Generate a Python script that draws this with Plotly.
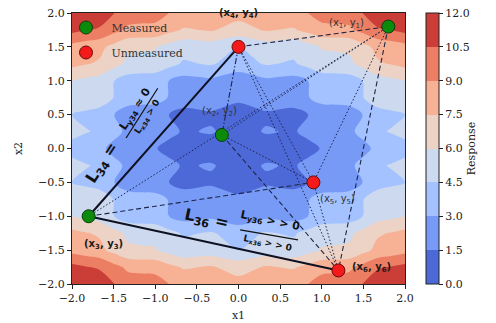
import plotly.graph_objects as go

# ---------------------------------------------------------------- response surface
grid_x = [-2.0, -1.833, -1.667, -1.5, -1.333, -1.167, -1.0, -0.833, -0.667, -0.5,
          -0.333, -0.167, 0.0, 0.167, 0.333, 0.5, 0.667, 0.833, 1.0, 1.167,
          1.333, 1.5, 1.667, 1.833, 2.0]
grid_y = [-2.0, -1.75, -1.5, -1.25, -1.0, -0.75, -0.5, -0.25, 0.0,
          0.25, 0.5, 0.75, 1.0, 1.25, 1.5, 1.75, 2.0]

response = [
    [12.00, 11.66, 11.38, 10.55, 9.78, 9.66, 9.60, 8.99, 8.44, 8.55, 8.71, 8.33, 8.00, 8.33, 8.71, 8.55, 8.44, 8.99, 9.60, 9.66, 9.78, 10.55, 11.38, 11.66, 12.00],
    [10.93, 10.59, 10.31, 9.48, 8.71, 8.59, 8.53, 7.92, 7.37, 7.48, 7.64, 7.26, 6.93, 7.26, 7.64, 7.48, 7.37, 7.92, 8.53, 8.59, 8.71, 9.48, 10.31, 10.59, 10.93],
    [8.50, 8.16, 7.88, 7.05, 6.28, 6.16, 6.10, 5.49, 4.94, 5.05, 5.21, 4.83, 4.50, 4.83, 5.21, 5.05, 4.94, 5.49, 6.10, 6.16, 6.28, 7.05, 7.88, 8.16, 8.50],
    [7.93, 7.59, 7.31, 6.48, 5.71, 5.59, 5.53, 4.92, 4.37, 4.48, 4.64, 4.26, 3.93, 4.26, 4.64, 4.48, 4.37, 4.92, 5.53, 5.59, 5.71, 6.48, 7.31, 7.59, 7.93],
    [6.00, 5.66, 5.38, 4.55, 3.78, 3.66, 3.60, 2.99, 2.44, 2.55, 2.71, 2.33, 2.00, 2.33, 2.71, 2.55, 2.44, 2.99, 3.60, 3.66, 3.78, 4.55, 5.38, 5.66, 6.00],
    [5.93, 5.59, 5.31, 4.48, 3.71, 3.59, 3.53, 2.92, 2.37, 2.48, 2.64, 2.26, 1.93, 2.26, 2.64, 2.48, 2.37, 2.92, 3.53, 3.59, 3.71, 4.48, 5.31, 5.59, 5.93],
    [4.50, 4.16, 3.88, 3.05, 2.28, 2.16, 2.10, 1.49, 0.94, 1.05, 1.21, 0.83, 0.50, 0.83, 1.21, 1.05, 0.94, 1.49, 2.10, 2.16, 2.28, 3.05, 3.88, 4.16, 4.50],
    [4.93, 4.59, 4.31, 3.48, 2.71, 2.59, 2.53, 1.92, 1.37, 1.48, 1.64, 1.26, 0.93, 1.26, 1.64, 1.48, 1.37, 1.92, 2.53, 2.59, 2.71, 3.48, 4.31, 4.59, 4.93],
    [4.00, 3.66, 3.38, 2.55, 1.78, 1.66, 1.60, 0.99, 0.44, 0.55, 0.71, 0.33, 0.00, 0.33, 0.71, 0.55, 0.44, 0.99, 1.60, 1.66, 1.78, 2.55, 3.38, 3.66, 4.00],
    [4.93, 4.59, 4.31, 3.48, 2.71, 2.59, 2.53, 1.92, 1.37, 1.48, 1.64, 1.26, 0.93, 1.26, 1.64, 1.48, 1.37, 1.92, 2.53, 2.59, 2.71, 3.48, 4.31, 4.59, 4.93],
    [4.50, 4.16, 3.88, 3.05, 2.28, 2.16, 2.10, 1.49, 0.94, 1.05, 1.21, 0.83, 0.50, 0.83, 1.21, 1.05, 0.94, 1.49, 2.10, 2.16, 2.28, 3.05, 3.88, 4.16, 4.50],
    [5.93, 5.59, 5.31, 4.48, 3.71, 3.59, 3.53, 2.92, 2.37, 2.48, 2.64, 2.26, 1.93, 2.26, 2.64, 2.48, 2.37, 2.92, 3.53, 3.59, 3.71, 4.48, 5.31, 5.59, 5.93],
    [6.00, 5.66, 5.38, 4.55, 3.78, 3.66, 3.60, 2.99, 2.44, 2.55, 2.71, 2.33, 2.00, 2.33, 2.71, 2.55, 2.44, 2.99, 3.60, 3.66, 3.78, 4.55, 5.38, 5.66, 6.00],
    [7.93, 7.59, 7.31, 6.48, 5.71, 5.59, 5.53, 4.92, 4.37, 4.48, 4.64, 4.26, 3.93, 4.26, 4.64, 4.48, 4.37, 4.92, 5.53, 5.59, 5.71, 6.48, 7.31, 7.59, 7.93],
    [8.50, 8.16, 7.88, 7.05, 6.28, 6.16, 6.10, 5.49, 4.94, 5.05, 5.21, 4.83, 4.50, 4.83, 5.21, 5.05, 4.94, 5.49, 6.10, 6.16, 6.28, 7.05, 7.88, 8.16, 8.50],
    [10.93, 10.59, 10.31, 9.48, 8.71, 8.59, 8.53, 7.92, 7.37, 7.48, 7.64, 7.26, 6.93, 7.26, 7.64, 7.48, 7.37, 7.92, 8.53, 8.59, 8.71, 9.48, 10.31, 10.59, 10.93],
    [12.00, 11.66, 11.38, 10.55, 9.78, 9.66, 9.60, 8.99, 8.44, 8.55, 8.71, 8.33, 8.00, 8.33, 8.71, 8.55, 8.44, 8.99, 9.60, 9.66, 9.78, 10.55, 11.38, 11.66, 12.00],
]

level_vals = [0.0, 1.5, 3.0, 4.5, 6.0, 7.5, 9.0, 10.5, 12.0]
level_text = ["0.0", "1.5", "3.0", "4.5", "6.0", "7.5", "9.0", "10.5", "12.0"]
band_colors = ["#4d68d7", "#779af7", "#a3c2ff", "#ccd9ee",
               "#ecd3c5", "#f7b194", "#ec7f63", "#cb3e38"]

axis_ticks = [-2.0, -1.5, -1.0, -0.5, 0.0, 0.5, 1.0, 1.5, 2.0]
axis_tick_text = ["\u22122.0", "\u22121.5", "\u22121.0", "\u22120.5", "0.0",
                  "0.5", "1.0", "1.5", "2.0"]

# ---------------------------------------------------------------- sample points
point_x = [1.8, -0.2, -1.8, 0.0, 0.9, 1.2]
point_y = [1.8, 0.2, -1.0, 1.5, -0.5, -1.8]
point_measured = [True, True, True, False, False, False]
point_labels = ["(x<sub>1</sub>, y<sub>1</sub>)", "(x<sub>2</sub>, y<sub>2</sub>)",
                "(x<sub>3</sub>, y<sub>3</sub>)", "(x<sub>4</sub>, y<sub>4</sub>)",
                "(x<sub>5</sub>, y<sub>5</sub>)", "(x<sub>6</sub>, y<sub>6</sub>)"]

# connections between points (1-based) and their line style
links = [(3, 4, "solid"), (3, 6, "solid"),
         (4, 1, "dash"), (3, 5, "dash"), (1, 6, "dash"), (2, 6, "dash"),
         (4, 2, "dashdot"),
         (1, 3, "dot"), (1, 2, "dot"), (1, 5, "dot"), (4, 5, "dot"),
         (4, 6, "dot"), (2, 5, "dot"), (5, 6, "dot")]

link_styles = {
    "solid": dict(color="#0e1122", width=2.0, dash="solid"),
    "dash": dict(color="#1d2648", width=1.1, dash="5px,3px"),
    "dot": dict(color="#1d2648", width=1.0, dash="1.5px,2px"),
    "dashdot": dict(color="#1d2648", width=1.1, dash="6px,2px,1.5px,2px"),
}

SERIF = "DejaVu Serif"
SANS = "DejaVu Sans"

# stepped colour scale: one flat colour per contour band
n_band = len(band_colors)
scale = []
for i, c in enumerate(band_colors):
    scale.append([i / n_band, c])
    scale.append([(i + 1) / n_band, c])

fig = go.Figure()

fig.add_trace(go.Contour(
    x=grid_x, y=grid_y, z=response,
    zmin=level_vals[0], zmax=level_vals[-1],
    autocontour=False,
    contours=dict(start=level_vals[0], end=level_vals[-1], size=1.5,
                  coloring="fill", showlines=False),
    line=dict(width=0, smoothing=1.0),
    colorscale=scale,
    showlegend=False,
    colorbar=dict(
        thickness=13, len=1.0, lenmode="fraction",
        x=1.063, xanchor="left", y=0.5, yanchor="middle",
        xpad=0, ypad=0,
        outlinewidth=1, outlinecolor="#222",
        ticks="outside", ticklen=4, tickwidth=1, tickcolor="#222",
        tickvals=level_vals, ticktext=level_text,
        tickfont=dict(family=SERIF, size=11, color="#222"),
        title=dict(text="Response", side="right",
                   font=dict(family=SERIF, size=11, color="#222")),
    ),
))

for a, b, style in links:
    st = link_styles[style]
    fig.add_trace(go.Scatter(
        x=[point_x[a - 1], point_x[b - 1]], y=[point_y[a - 1], point_y[b - 1]],
        mode="lines", line=st, showlegend=False, hoverinfo="skip"))

for flag, name, fill, edge, grp in [(True, "\u2002Measured", "#0c8a0c", "#0b3d0b", "m"),
                                    (False, "\u2002Unmeasured", "#f41a1a", "#6a0a0a", "u")]:
    xs = [px for px, m in zip(point_x, point_measured) if m == flag]
    ys = [py for py, m in zip(point_y, point_measured) if m == flag]
    fig.add_trace(go.Scatter(
        x=xs, y=ys, mode="markers", name=name, legendgroup=grp,
        marker=dict(size=13, color=fill, line=dict(color=edge, width=1))))

# point labels, placed in pixels relative to each point
label_place = [(-42, 3, False), (-2, 23, False), (15, -28, True),
               (0, 33, True), (24, -17, False), (33, 3, True)]
annotations = []
for i, (dx, dy, bold) in enumerate(label_place):
    txt = point_labels[i]
    annotations.append(dict(
        x=point_x[i], y=point_y[i], xref="x", yref="y",
        text="<b>" + txt + "</b>" if bold else txt,
        showarrow=False, xshift=dx, yshift=dy,
        font=dict(family=SANS, size=10, color="#1a1a1a" if bold else "#333333")))

# ratio annotations along the two solid links
ratio_text = [
    ((-1.63, -0.21), "<b>L<sub>34</sub> =</b>", 16, -57),
    ((-1.24, 0.59), "<b>L<sub>y34</sub> \u2248 0</b>", 11, -57),
    ((-1.09, 0.47), "<b>L<sub>x34</sub> > 0</b>", 9, -57),
    ((-0.38, -1.055), "<b>L<sub>36</sub> =</b>", 16, 12),
    ((0.38, -1.07), "<b>L<sub>y36</sub> > > 0</b>", 11, 12),
    ((0.35, -1.40), "<b>L<sub>x36</sub> > > 0</b>", 9, 12),
]
for (ax, ay), txt, size, ang in ratio_text:
    annotations.append(dict(
        x=ax, y=ay, xref="x", yref="y", text=txt, showarrow=False,
        textangle=ang, font=dict(family=SANS, size=size, color="#111")))

fraction_bars = [((-1.35, 0.155), (-0.97, 0.89)), ((0.02, -1.20), (0.715, -1.35))]
shapes = [dict(type="line", xref="x", yref="y", x0=p[0], y0=p[1], x1=q[0], y1=q[1],
               line=dict(color="#111", width=1.2)) for p, q in fraction_bars]

axis_common = dict(
    range=[-2, 2], tickvals=axis_ticks, ticktext=axis_tick_text,
    ticks="outside", ticklen=4, tickwidth=1, tickcolor="#222",
    showline=True, mirror=True, linecolor="#222", linewidth=1,
    showgrid=False, zeroline=False, automargin=False,
    tickfont=dict(family=SERIF, size=11, color="#222"),
)

fig.update_layout(
    width=496, height=323,
    margin=dict(l=72, r=91, t=13, b=39, autoexpand=False),
    paper_bgcolor="white", plot_bgcolor="white",
    xaxis=dict(axis_common, title=dict(text="x1", standoff=7,
                                       font=dict(family=SERIF, size=11, color="#222"))),
    yaxis=dict(axis_common, title=dict(text="x2", standoff=13,
                                       font=dict(family=SERIF, size=11, color="#222"))),
    legend=dict(x=-0.018, y=1.0, xanchor="left", yanchor="top",
                bgcolor="rgba(0,0,0,0)", borderwidth=0,
                tracegroupgap=6, itemsizing="trace",
                font=dict(family=SERIF, size=11, color="#333")),
    annotations=annotations,
    shapes=shapes,
)

fig.write_html("out.html")
